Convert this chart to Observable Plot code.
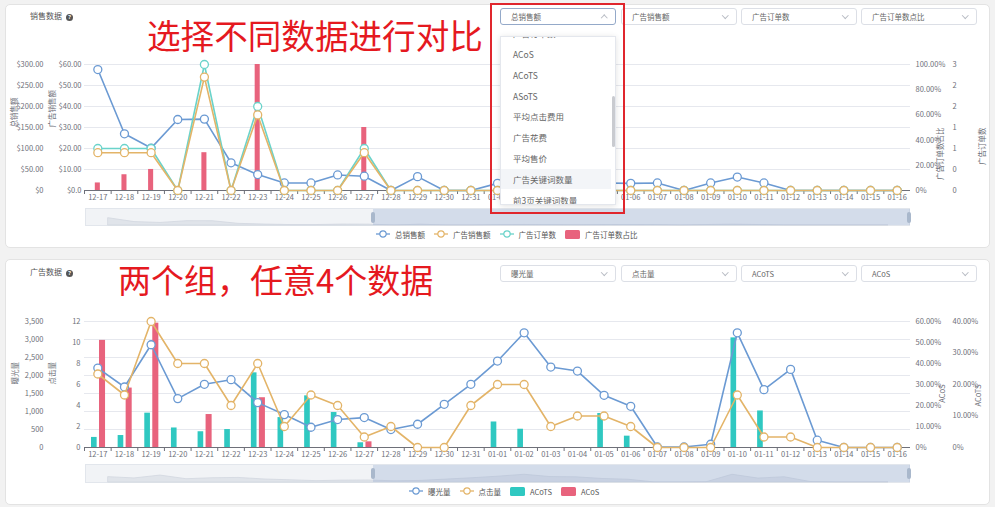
<!DOCTYPE html>
<html><head><meta charset="utf-8">
<script src="https://cdn.jsdelivr.net/npm/d3@7"></script>
<script src="https://cdn.jsdelivr.net/npm/@observablehq/plot@0.6"></script>
<style>
html,body{margin:0;padding:0;background:#f2f2f2;}
#root{position:relative;width:995px;height:507px;overflow:hidden;font-family:"Noto Sans CJK SC","Noto Sans",sans-serif;}
.card{position:absolute;background:#fff;border:1px solid #e3e3e3;border-radius:5px;box-sizing:border-box;}
.a{position:absolute;white-space:nowrap;}
.title{font-size:8px;color:#555;line-height:10px;}
.q{display:inline-block;width:7px;height:7px;border-radius:50%;background:#555;color:#fff;font-size:5.5px;line-height:7px;text-align:center;font-weight:bold;margin-left:4px;vertical-align:0px;font-family:"Noto Sans",sans-serif;}
.big{color:#e5191f;line-height:40px;}
.sel{position:absolute;height:17px;border:1px solid #dcdfe6;border-radius:3px;background:#fff;box-sizing:border-box;font-size:7.5px;color:#666;line-height:15px;padding-left:10px;white-space:nowrap;}
.sel.focus{border-color:#94a9c9;}
.chev{position:absolute;right:9px;top:4px;width:3.5px;height:3.5px;border-right:1px solid #b8bcc4;border-bottom:1px solid #b8bcc4;transform:rotate(45deg);}
.chev.up{top:6.5px;transform:rotate(-135deg);}
.list{position:absolute;left:500px;top:36px;width:116px;height:169px;background:#fff;border:1px solid #e4e7ed;box-shadow:0 1px 6px rgba(0,0,0,0.12);overflow:hidden;box-sizing:border-box;}
.item{position:absolute;left:0;width:110px;padding-left:12px;box-sizing:border-box;font-size:8.5px;color:#666;line-height:20px;height:20px;white-space:nowrap;}
.item.hl{background:#f3f5f8;}
.thumb{position:absolute;left:111px;top:59px;width:3px;height:51px;border-radius:2px;background:#c9cbd0;}
.redbox{position:absolute;left:490px;top:3px;width:135px;height:211px;border:2px solid #e0262d;box-sizing:border-box;}
.leg{position:absolute;font-size:7.5px;color:#555;display:flex;align-items:center;gap:9px;white-space:nowrap;}
.leg span.it{display:flex;align-items:center;gap:5px;}
.slider{position:absolute;left:85px;width:825px;background:#f1f3f6;border:1px solid #e2e6ec;box-sizing:border-box;}
.win{position:absolute;background:rgba(150,172,207,0.32);}
.handle{position:absolute;width:4px;height:11px;border-radius:2px;background:#a9b8cc;}
</style>
</head><body><div id="root"></div>
<script>
// ---------- data ----------
const dates = ["12-17","12-18","12-19","12-20","12-21","12-22","12-23","12-24","12-25","12-26","12-27","12-28","12-29","12-30","12-31",
  "01-01","01-02","01-03","01-04","01-05","01-06","01-07","01-08","01-09","01-10","01-11","01-12","01-13","01-14","01-15","01-16"];

// 销售数据
const totalSales = [288,135,101,169,170,66,38,18,18,37,34,0,33,0,0, 17,20,15,10,18,17,18,0,18,32,18,0,0,0,0,0];
const adSales    = [18,18,18,0,54,0,36,0,0,0,18,0,0,0,0, 0,0,0,0,0,0,0,0,0,0,0,0,0,0,0,0];
const adOrders   = [1,1,1,0,3,0,2,0,0,0,1,0,0,0,0, 0,0,0,0,0,0,0,0,0,0,0,0,0,0,0,0];
const orderShare = [6,12.5,16.7,0,30,0,100,0,0,0,50,0,0,0,0, 0,0,0,0,0,0,0,0,0,0,0,0,0,0,0,0];

// 广告数据
const impressions = [2207,1681,2854,1358,1755,1884,1247,914,563,776,831,499,646,1200,1755, 2401,3186,2235,2124,1450,1145,15,15,90,3186,1607,2170,203,0,0,0];
const clicks      = [7,5,12,8,8,4,8,2,5,4,1,2,0,0,4, 6,6,2,3,3,2,0,0,0,5,1,1,0,0,0,0];
const acots       = [3.2,3.8,10.9,6.2,5,5.7,23.7,9.5,16.4,11.1,1.5,0,0,0,0, 8.1,5.8,0,0,10.8,3.6,0,0,0,34.8,11.6,0,0,0,0,0];
const acos        = [51,28.3,59.2,0,15.7,0,23.7,0,0,0,2.7,0,0,0,0, 0,0,0,0,0,0,0,0,0,0,0,0,0,0,0,0];

// axis maxima and tick labels (bottom to top)
const topMax = [300, 60, 100, 3];   // 总销售额, 广告销售额, 广告订单数占比(%), 广告订单数
const botMax = [3500, 12, 60, 40];  // 曝光量, 点击量, ACoS(%), ACoTS(%)
const tTotal = ["$0","$50.00","$100.00","$150.00","$200.00","$250.00","$300.00"];
const tAdSales = ["$0.0","$10.00","$20.00","$30.00","$40.00","$50.00","$60.00"];
const tShare = ["0%","20.00%","40.00%","60.00%","80.00%","100.00%"];
const tOrders = ["0","0","1","1","2","2","3"];
const tImp = ["0","500","1,000","1,500","2,000","2,500","3,000","3,500"];
const tClicks = ["0","2","4","6","8","10","12"];
const tAcos = ["0%","10.00%","20.00%","30.00%","40.00%","50.00%","60.00%"];
const tAcots = ["0%","10.00%","20.00%","30.00%","40.00%"];

const topSelects = ["总销售额","广告销售额","广告订单数","广告订单数点比"];
const botSelects = ["曝光量","点击量","ACoTS","ACoS"];
const dropItems = ["广告订单数","ACoS","ACoTS","ASoTS","平均点击费用","广告花费","平均售价","广告关键词数量","前3页关键词数量"];

const blue="#6b9ad3", yellow="#e3b468", teal="#6ad3ca", pink="#e8637d", tealBar="#2fc8c1", axisC="#6e7079";

// ---------- helpers ----------
const root = document.getElementById("root");
function el(html){ const t=document.createElement("div"); t.innerHTML=html; const n=t.firstElementChild; root.appendChild(n); return n; }
function place(node, left, top){ const d=document.createElement("div"); d.style.cssText=`position:absolute;left:${left}px;top:${top}px;`; d.appendChild(node); root.appendChild(d); return d; }

const PL=84, PR=85, bw=(995-PL-PR)/dates.length;
const baseStyle = {fontFamily:'"Noto Sans CJK SC","Noto Sans",sans-serif', fontSize:"7.5px", color:axisC, background:"transparent", overflow:"visible"};

function yText(labels, anchor, pad){
  const n = labels.length-1;
  return Plot.text(labels.map((t,k)=>({t, v:k/n})), {y:"v", text:"t", frameAnchor:anchor,
    textAnchor: anchor==="left" ? "end" : "start", dx: anchor==="left" ? -pad : pad, fill:axisC});
}
function yTitle(t, anchor, off){
  return Plot.text([t], {text:d=>d, frameAnchor:anchor, dx: anchor==="left" ? -off : off, rotate:-90, fill:axisC});
}
function xAxes(){
  return [
    Plot.ruleY([0], {stroke:axisC, strokeWidth:1}),
    Plot.axisX({tickSize:4, tickFormat:()=>"", dx:-bw/2, stroke:axisC, label:null}),
    Plot.axisX({tickSize:0, tickPadding:4, fill:axisC, label:null})
  ];
}
function lineDots(rows, key, color){
  return [
    Plot.line(rows, {x:"d", y:key, stroke:color, strokeWidth:1.6}),
    Plot.dot(rows, {x:"d", y:key, r:4, fill:"#fff", stroke:color, strokeWidth:1.3})
  ];
}

// ---------- cards & static texts ----------
el(`<div class="card" style="left:5px;top:4px;width:985px;height:244px;"></div>`);
el(`<div class="card" style="left:5px;top:259px;width:985px;height:246px;"></div>`);
el(`<div class="a title" style="left:30px;top:11px;">销售数据<span class="q">?</span></div>`);
el(`<div class="a title" style="left:30px;top:267px;">广告数据<span class="q">?</span></div>`);
el(`<div class="a big" style="left:147px;top:15px;font-size:33.6px;">选择不同数据进行对比</div>`);
el(`<div class="a big" style="left:118px;top:259px;font-size:33px;">两个组，任意4个数据</div>`);

// ---------- top chart ----------
const topRows = dates.map((d,i)=>({d, total:totalSales[i]/topMax[0], adS:adSales[i]/topMax[1], share:orderShare[i]/topMax[2], ord:adOrders[i]/topMax[3]}));
const topPlot = Plot.plot({
  width:995, height:180, marginLeft:PL, marginRight:PR, marginTop:34, marginBottom:20,
  x:{type:"band", domain:dates, padding:0, round:false, label:null},
  y:{domain:[0,1], axis:null},
  style:baseStyle,
  marks:[
    Plot.ruleY(d3.range(7).map(k=>k/6), {stroke:"#e6e8ee"}),
    Plot.barY(topRows, {x:"d", y:"share", fill:pink, insetLeft:10.8, insetRight:10.8}),
    ...xAxes(),
    ...lineDots(topRows, "total", blue),
    ...lineDots(topRows, "ord", teal),
    ...lineDots(topRows, "adS", yellow),
    yText(tTotal, "left", 41), yText(tAdSales, "left", 3),
    yText(tShare, "right", 5), yText(tOrders, "right", 42),
    yTitle("总销售额", "left", 70), yTitle("广告销售额", "left", 32),
    yTitle("广告订单数占比", "right", 30), yTitle("广告订单数", "right", 72)
  ]
});
place(topPlot, 0, 30);

// ---------- bottom chart ----------
const botRows = dates.map((d,i)=>({d, imp:impressions[i]/botMax[0], clk:clicks[i]/botMax[1], acos:acos[i]/botMax[2], acots:acots[i]/botMax[3]}));
const botPlot = Plot.plot({
  width:995, height:176, marginLeft:PL, marginRight:PR, marginTop:36, marginBottom:14,
  x:{type:"band", domain:dates, padding:0, round:false, label:null},
  y:{domain:[0,1], axis:null},
  style:baseStyle,
  marks:[
    Plot.ruleY(d3.range(8).map(k=>k/7), {stroke:"#e6e8ee"}),
    Plot.barY(botRows, {x:"d", y:"acots", fill:tealBar, insetLeft:7, insetRight:14}),
    Plot.barY(botRows, {x:"d", y:"acos", fill:pink, insetLeft:15, insetRight:5.6}),
    ...xAxes(),
    ...lineDots(botRows, "imp", blue),
    ...lineDots(botRows, "clk", yellow),
    yText(tImp, "left", 41), yText(tClicks, "left", 4),
    yText(tAcos, "right", 5), yText(tAcots, "right", 42),
    yTitle("曝光量", "left", 69), yTitle("点击量", "left", 32),
    yTitle("ACoS", "right", 32), yTitle("ACoTS", "right", 68)
  ]
});
place(botPlot, 0, 285);

// ---------- data zoom sliders ----------
function slider(top, h, values){
  el(`<div class="slider" style="top:${top}px;height:${h}px;"></div>`);
  const rows = dates.map((d,i)=>({d, v:values[i]}));
  const p = Plot.plot({
    width:995, height:h, marginLeft:86, marginRight:86, marginTop:1, marginBottom:1,
    x:{type:"point", domain:dates, axis:null},
    y:{domain:[0, d3.max(values)*2.2], axis:null},
    style:{background:"transparent", overflow:"visible"},
    marks:[Plot.areaY(rows, {x:"d", y:"v", fill:"#e0e4ea", stroke:"#d2d7df", strokeWidth:0.8})]
  });
  place(p, 0, top);
  el(`<div class="win" style="left:373px;top:${top+1}px;width:537px;height:${h-2}px;"></div>`);
  el(`<div class="handle" style="left:371px;top:${top+(h-11)/2}px;"></div>`);
  el(`<div class="handle" style="left:907px;top:${top+(h-11)/2}px;"></div>`);
}
slider(208, 18, totalSales);
slider(464, 19, impressions);

// ---------- legends ----------
function lineIcon(c){ return `<svg width="14" height="8"><line x1="0" y1="4" x2="14" y2="4" stroke="${c}" stroke-width="1.3"/><circle cx="7" cy="4" r="3.2" fill="#fff" stroke="${c}" stroke-width="1.2"/></svg>`; }
function rectIcon(c){ return `<svg width="15" height="9"><rect x="0" y="0" width="15" height="9" rx="1.5" fill="${c}"/></svg>`; }
el(`<div class="leg" style="left:376px;top:228px;height:12px;">
  <span class="it">${lineIcon(blue)}总销售额</span>
  <span class="it">${lineIcon(yellow)}广告销售额</span>
  <span class="it">${lineIcon(teal)}广告订单数</span>
  <span class="it">${rectIcon(pink)}广告订单数占比</span></div>`);
el(`<div class="leg" style="left:409px;top:485px;height:12px;">
  <span class="it">${lineIcon(blue)}曝光量</span>
  <span class="it">${lineIcon(yellow)}点击量</span>
  <span class="it">${rectIcon(tealBar)}ACoTS</span>
  <span class="it">${rectIcon(pink)}ACoS</span></div>`);

// ---------- selects ----------
const selX = [500, 621, 741, 861];
topSelects.forEach((t,i)=>{
  el(`<div class="sel ${i===0?'focus':''}" style="left:${selX[i]}px;top:8px;width:116px;">${t}<div class="chev ${i===0?'up':''}"></div></div>`);
});
botSelects.forEach((t,i)=>{
  el(`<div class="sel" style="left:${selX[i]}px;top:265px;width:116px;">${t}<div class="chev"></div></div>`);
});

// dropdown list
const list = el(`<div class="list"></div>`);
dropItems.forEach((t,i)=>{
  const d=document.createElement("div");
  d.className = "item" + (t==="广告关键词数量" ? " hl" : "");
  d.style.top = (7 + (i-1)*20.8) + "px";
  d.textContent = t;
  list.appendChild(d);
});
const th=document.createElement("div"); th.className="thumb"; list.appendChild(th);
el(`<div class="redbox"></div>`);
</script>
</body></html>
